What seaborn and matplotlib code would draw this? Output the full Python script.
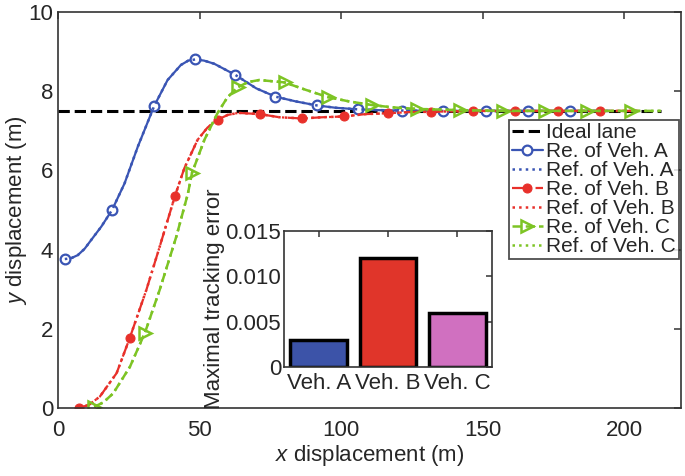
import numpy as np
import matplotlib
matplotlib.use("Agg")
import matplotlib.pyplot as plt
import seaborn as sns

# trajectory of vehicle A
veh_a_x = [2.4, 4.6, 7, 9.4, 11.7, 15.3, 19.1, 23.5, 28.2, 34.0, 38.7, 43.4, 46, 48.5, 51.6,
           55.2, 62.6, 70, 76.8, 84, 91.3, 98, 105.9, 113, 121.6, 136, 151, 166, 181, 195]
veh_a_y = [3.76, 3.78, 3.86, 4.02, 4.24, 4.58, 5.0, 5.67, 6.6, 7.63, 8.28, 8.66, 8.77, 8.8, 8.77,
           8.69, 8.41, 8.07, 7.86, 7.74, 7.64, 7.58, 7.54, 7.52, 7.51, 7.5, 7.5, 7.5, 7.5, 7.5]
veh_a_marks = [0, 6, 9, 13, 16, 18, 20, 22, 24, 25, 26, 27, 28]

# vehicle B
veh_b_x = [7.4, 11, 14.8, 20.7, 25.3, 31.2, 35.9, 41.3, 44.6, 49.3, 52.8, 56.4, 60, 63.7, 71.3,
           78.2, 86, 93.4, 100.9, 108.7, 116.4, 124, 131.6, 146.5, 161.4, 176.5, 191.5, 205]
veh_b_y = [0, 0.08, 0.29, 0.88, 1.76, 2.98, 4.07, 5.35, 6.05, 6.77, 7.08, 7.28, 7.4, 7.45, 7.42,
           7.34, 7.31, 7.34, 7.36, 7.42, 7.44, 7.47, 7.48, 7.5, 7.5, 7.5, 7.5, 7.5]
veh_b_marks = [0, 4, 7, 11, 14, 16, 18, 20, 22, 23, 24, 25, 26]

# vehicle C
veh_c_x = [12.8, 16, 19.5, 25.4, 30.7, 35.9, 41.8, 45.9, 47.3, 51.7, 56.3, 59.8, 63.5, 67.2,
           71.1, 80, 87.6, 95.3, 102.8, 110.8, 118, 126.8, 142, 157, 172, 187, 202.5, 213]
veh_c_y = [0.03, 0.14, 0.37, 1.04, 1.9, 2.98, 4.33, 5.42, 5.93, 6.77, 7.44, 7.84, 8.1, 8.23,
           8.28, 8.22, 8.03, 7.85, 7.74, 7.65, 7.59, 7.55, 7.52, 7.5, 7.5, 7.5, 7.5, 7.5]
veh_c_marks = [0, 4, 8, 12, 15, 17, 19, 21, 22, 23, 24, 25, 26]

lane_x = [0, 213]
lane_y = [7.5, 7.5]

vehicles = ["Veh. A", "Veh. B", "Veh. C"]
max_errors = [0.003, 0.012, 0.006]

c_blue = "#3a55b4"
c_red = "#e8302a"
c_green = "#7dc424"
bar_colors = ["#3c53a8", "#e0352a", "#d070c0"]

sns.set_style("white")
plt.rcParams["font.family"] = ["Liberation Sans", "DejaVu Sans"]
plt.rcParams["mathtext.fontset"] = "custom"
plt.rcParams["mathtext.it"] = "Liberation Sans:italic"
plt.rcParams["mathtext.rm"] = "Liberation Sans"
plt.rcParams["xtick.direction"] = "in"
plt.rcParams["ytick.direction"] = "in"
plt.rcParams["axes.edgecolor"] = "#333333"
plt.rcParams["axes.linewidth"] = 1.2

fig = plt.figure(figsize=(6.85, 4.76), dpi=100)
ax = fig.add_axes([0.0847, 0.1429, 0.9093, 0.8321])

sns.lineplot(x=lane_x, y=lane_y, ax=ax, color="black", linestyle="--", linewidth=2.2,
             label="Ideal lane", estimator=None, sort=False)

sns.lineplot(x=veh_a_x, y=veh_a_y, ax=ax, color=c_blue, linestyle="-", linewidth=1.6,
             marker="o", markevery=veh_a_marks, markersize=7, mfc="white", mec=c_blue, mew=1.6,
             label="Re. of Veh. A", estimator=None, sort=False)
sns.lineplot(x=veh_a_x, y=veh_a_y, ax=ax, color=c_blue, linestyle=":", linewidth=1.8,
             label="Ref. of Veh. A", estimator=None, sort=False)

sns.lineplot(x=veh_b_x, y=veh_b_y, ax=ax, color=c_red, linestyle="-.", linewidth=1.6,
             marker="o", markevery=veh_b_marks, markersize=6.5, mfc=c_red, mec=c_red,
             label="Re. of Veh. B", estimator=None, sort=False)
sns.lineplot(x=veh_b_x, y=veh_b_y, ax=ax, color=c_red, linestyle=":", linewidth=1.8,
             label="Ref. of Veh. B", estimator=None, sort=False)

sns.lineplot(x=veh_c_x, y=veh_c_y, ax=ax, color=c_green, linestyle="--", linewidth=1.8,
             marker=">", markevery=veh_c_marks, markersize=9, mfc="none", mec=c_green, mew=1.8,
             label="Re. of Veh. C", estimator=None, sort=False)
sns.lineplot(x=veh_c_x, y=veh_c_y, ax=ax, color=c_green, linestyle=":", linewidth=1.8,
             label="Ref. of Veh. C", estimator=None, sort=False)

ax.set_xlim(0, 220)
ax.set_ylim(0, 10)
ax.set_xticks([0, 50, 100, 150, 200])
ax.set_yticks([0, 2, 4, 6, 8, 10])
ax.tick_params(labelsize=16, top=True, right=True, length=5, width=1.1, color="#333333")
ax.tick_params(axis="x", pad=9)
ax.set_xlabel("$x$ displacement (m)", fontsize=16, labelpad=1)
ax.set_ylabel("$y$ displacement (m)", fontsize=16)
ax.yaxis.set_label_coords(-0.047, 0.5)

leg = ax.legend(loc="upper right", bbox_to_anchor=(0.997, 0.727), fontsize=15,
                handlelength=1.5, handletextpad=0.15, labelspacing=0.0, borderpad=0.15,
                borderaxespad=0.0, frameon=True, fancybox=False)
leg.get_frame().set_edgecolor("#222222")
leg.get_frame().set_linewidth(1.3)

# inset bar chart
ins = fig.add_axes([0.4146, 0.229, 0.3036, 0.286])
sns.barplot(x=vehicles, y=max_errors, hue=vehicles, palette=bar_colors, saturation=1,
            edgecolor="black", linewidth=2.5, width=0.82, ax=ins, legend=False)
ins.set_ylim(0, 0.015)
ins.set_yticks([0, 0.005, 0.010, 0.015])
ins.set_yticklabels(["0", "0.005", "0.010", "0.015"])
ins.tick_params(labelsize=16, top=True, right=True, length=4, width=1.1, color="#333333", pad=2)
ins.tick_params(axis="x", pad=4)
ins.set_ylabel("Maximal tracking error", fontsize=16, labelpad=0)
ins.set_xlabel("")

fig.savefig("out.png", dpi=100)
